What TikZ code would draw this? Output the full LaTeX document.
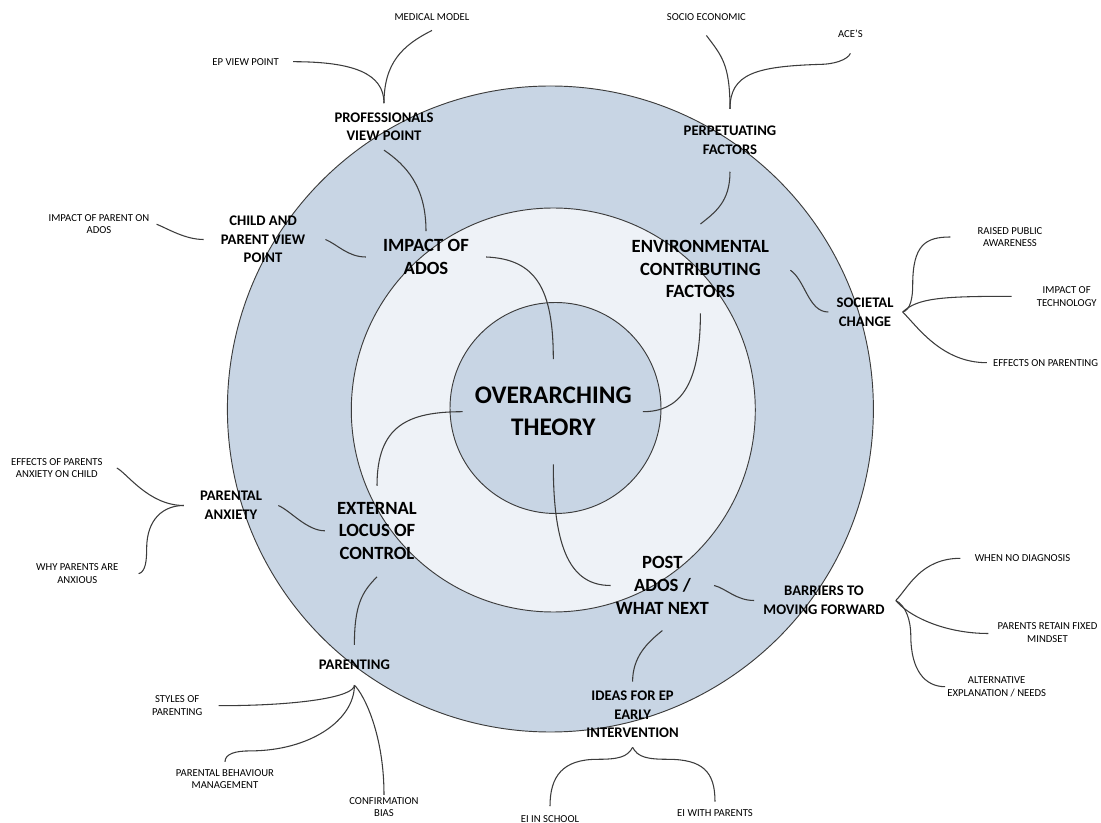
\documentclass[tikz,border=0pt]{standalone}
\usepackage{fontspec}
\setmainfont{Carlito}
\usetikzlibrary{calc}
\definecolor{ringblue}{HTML}{C8D5E4}
\definecolor{ringpale}{HTML}{EEF2F7}
\definecolor{inkgray}{HTML}{3C3C3C}

\tikzset{
  ring/.style={draw=inkgray, line width=0.7pt},
  link/.style={draw=inkgray, line width=0.8pt},
  hub/.style={font=\bfseries\fontsize{19}{24}\selectfont, align=center, inner sep=0pt},
  theme/.style={font=\bfseries\fontsize{14}{17}\selectfont, align=center, inner sep=0pt},
  subtheme/.style={font=\bfseries\fontsize{11}{14}\selectfont, align=center, inner sep=0pt},
  leaf/.style={font=\fontsize{8}{9.5}\selectfont, align=center, inner sep=0pt}
}

\begin{document}
\begin{tikzpicture}[x=0.75pt,y=-0.75pt]
    \useasboundingbox (0,0) rectangle (1101,823);

    % rings
    \draw[ring, fill=ringblue] (550.4,409) circle [radius=323];
    \draw[ring, fill=ringpale] (553.3,410) circle [radius=202];
    \draw[ring, fill=ringblue] (555.5,408) circle [radius=105.5];

    % centre and main themes
    \node[hub] (theory) at (553.3,411.7) {OVERARCHING\\THEORY};
    \node[theme] (impact) at (426,257) {IMPACT OF\\ADOS};
    \node[theme] (env) at (700.4,269.2) {ENVIRONMENTAL\\CONTRIBUTING\\FACTORS};
    \node[theme] (ext) at (377,530.8) {EXTERNAL\\LOCUS OF\\CONTROL};
    \node[theme] (post) at (662.4,585.5) {POST\\ADOS /\\WHAT NEXT};

    % sub themes
    \node[subtheme] (prof) at (384,126.7) {PROFESSIONALS\\VIEW POINT};
    \node[subtheme] (child) at (263,239.5) {CHILD AND\\PARENT VIEW\\POINT};
    \node[subtheme] (perp) at (730,140.3) {PERPETUATING\\FACTORS};
    \node[subtheme] (soc) at (865,312) {SOCIETAL\\CHANGE};
    \node[subtheme] (panx) at (231,505.5) {PARENTAL\\ANXIETY};
    \node[subtheme] (parenting) at (354.4,665) {PARENTING};
    \node[subtheme] (ideas) at (632.6,714.5) {IDEAS FOR EP\\EARLY\\INTERVENTION};
    \node[subtheme] (barriers) at (824,600.5) {BARRIERS TO\\MOVING FORWARD};

    % leaves
    \node[leaf] (medical) at (432,16.7) {MEDICAL MODEL};
    \node[leaf] (epview) at (245.6,61.7) {EP VIEW POINT};
    \node[leaf] (socio) at (706.4,16.7) {SOCIO ECONOMIC};
    \node[leaf] (aces) at (850.4,33.3) {ACE'S};
    \node[leaf] (imparent) at (99,224.2) {IMPACT OF PARENT ON\\ADOS};
    \node[leaf] (raised) at (1010,237) {RAISED PUBLIC\\AWARENESS};
    \node[leaf] (tech) at (1066.7,296.3) {IMPACT OF\\TECHNOLOGY};
    \node[leaf] (effpar) at (1045.6,362.7) {EFFECTS ON PARENTING};
    \node[leaf] (effanx) at (56.8,468) {EFFECTS OF PARENTS\\ANXIETY ON CHILD};
    \node[leaf] (whyanx) at (77.3,573.7) {WHY PARENTS ARE\\ANXIOUS};
    \node[leaf] (nodiag) at (1022.5,558.3) {WHEN NO DIAGNOSIS};
    \node[leaf] (fixed) at (1047.5,632.5) {PARENTS RETAIN FIXED\\MINDSET};
    \node[leaf] (altexp) at (996.7,686.7) {ALTERNATIVE\\EXPLANATION / NEEDS};
    \node[leaf] (styles) at (177.2,705.7) {STYLES OF\\PARENTING};
    \node[leaf] (behav) at (225,779) {PARENTAL BEHAVIOUR\\MANAGEMENT};
    \node[leaf] (confirm) at (384,807) {CONFIRMATION\\BIAS};
    \node[leaf] (eischool) at (550,819) {EI IN SCHOOL};
    \node[leaf] (eiparents) at (715,813.3) {EI WITH PARENTS};

    % links into the centre
    \draw[link] ($(impact.east)+(17,0)$) .. controls +(50,2) and +(0,-70) .. ($(theory.north)+(0,-28)$);
    \draw[link] ($(env.south)+(0,15)$) .. controls +(0,75) and +(35,0) .. ($(theory.east)+(11,0)$);
    \draw[link] ($(ext.north)+(0,-16)$) .. controls +(0,-60) and +(-55,0) .. ($(theory.west)+(-12,0)$);
    \draw[link] ($(theory.south)+(0,28)$) .. controls +(0,85) and +(-40,0) .. ($(post.west)+(-5,0)$);

    % links between themes
    \draw[link] ($(prof.south)+(0,9)$) .. controls +(22,15) and +(0,-45) .. ($(impact.north)+(0,-8)$);
    \draw[link] ($(child.east)+(20,0)$) .. controls +(12,5) and +(-18,0) .. ($(impact.west)+(-17,0)$);
    \draw[link] ($(perp.south)+(0,17)$) .. controls +(0,30) and +(15,-12) .. ($(env.north)+(0,-16)$);
    \draw[link] ($(env.east)+(21,1)$) .. controls +(15,10) and +(-20,0) .. ($(soc.west)+(-8,0)$);
    \draw[link] ($(panx.east)+(16,0)$) .. controls +(12,5) and +(-18,0) .. ($(ext.west)+(-12,0)$);
    \draw[link] ($(ext.south)+(0,17)$) .. controls +(-15,15) and +(0,-40) .. ($(parenting.north)+(0,-15)$);
    \draw[link] ($(post.east)+(5,0)$) .. controls +(12,3) and +(-18,0) .. ($(barriers.west)+(-9,0)$);
    \draw[link] ($(post.south)+(0,16)$) .. controls +(-15,12) and +(0,-25) .. ($(ideas.north)+(0,-9)$);

    % leaf links
    \draw[link] ($(epview.east)+(14,0)$) .. controls +(60,0) and +(0,-30) .. ($(prof.north)+(0,-9)$);
    \draw[link] ($(medical.south)+(0,10)$) .. controls +(-30,15) and +(0,-40) .. ($(prof.north)+(0,-9)$);
    \draw[link] ($(socio.south)+(0,15)$) .. controls +(15,20) and +(0,-45) .. ($(perp.north)+(0,-17)$);
    \draw[link] ($(aces.south)+(0,16)$) .. controls +(-3,7) and +(12,0) .. ++(-30,11) .. controls +(-65,2) and +(0,-35) .. ($(perp.north)+(0,-17)$);
    \draw[link] ($(imparent.east)+(7,0)$) .. controls +(12,5) and +(-18,0) .. ($(child.west)+(-17,0)$);

    \coordinate (socj) at ($(soc.east)+(9,0)$);
    \draw[link] (socj) .. controls +(8,-2) and +(0,12) .. ++(10,-27) .. controls +(0,-40) and +(-25,0) .. ($(raised.west)+(-27,0)$);
    \draw[link] (socj) .. controls +(15,-14) and +(-70,0) .. ($(tech.west)+(-25,0)$);
    \draw[link] (socj) .. controls +(15,15) and +(-45,0) .. ($(effpar.west)+(-6,0)$);

    \coordinate (panxj) at ($(panx.west)+(-16,0)$);
    \draw[link] ($(effanx.east)+(14,0)$) .. controls +(10,5) and +(-35,0) .. (panxj);
    \draw[link] ($(whyanx.east)+(20,0)$) .. controls +(7,-2) and +(0,12) .. ++(8,-25) .. controls +(0,-30) and +(-20,0) .. (panxj);

    \coordinate (barj) at ($(barriers.east)+(11,0)$);
    \draw[link] (barj) .. controls +(12,-12) and +(-40,0) .. ($(nodiag.west)+(-14,0)$);
    \draw[link] (barj) .. controls +(12,15) and +(-45,0) .. ($(fixed.west)+(-9,1)$);
    \draw[link] (barj) .. controls +(10,5) and +(0,-15) .. ++(15,35) .. controls +(0,35) and +(-20,0) .. ($(altexp.west)+(-2,0)$);

    \coordinate (ideasj) at ($(ideas.south)+(0,9)$);
    \draw[link] (ideasj) .. controls +(-5,10) and +(20,0) .. ++(-35,12) .. controls +(-35,0) and +(0,-30) .. ($(eischool.north)+(0,-9)$);
    \draw[link] (ideasj) .. controls +(5,10) and +(-20,0) .. ++(35,12) .. controls +(35,0) and +(0,-30) .. ($(eiparents.north)+(0,-8)$);

    \coordinate (parj) at ($(parenting.south)+(0,15)$);
    \draw[link] ($(styles.east)+(16,0)$) .. controls +(80,0) and +(0,12) .. (parj);
    \draw[link] ($(behav.north)+(0,-7)$) .. controls +(0,-8) and +(-15,0) .. ++(25,-11) .. controls +(60,0) and +(0,35) .. (parj);
    \draw[link] (parj) .. controls +(10,10) and +(0,-60) .. ($(confirm.north)+(0,-2)$);
\end{tikzpicture}
\end{document}
